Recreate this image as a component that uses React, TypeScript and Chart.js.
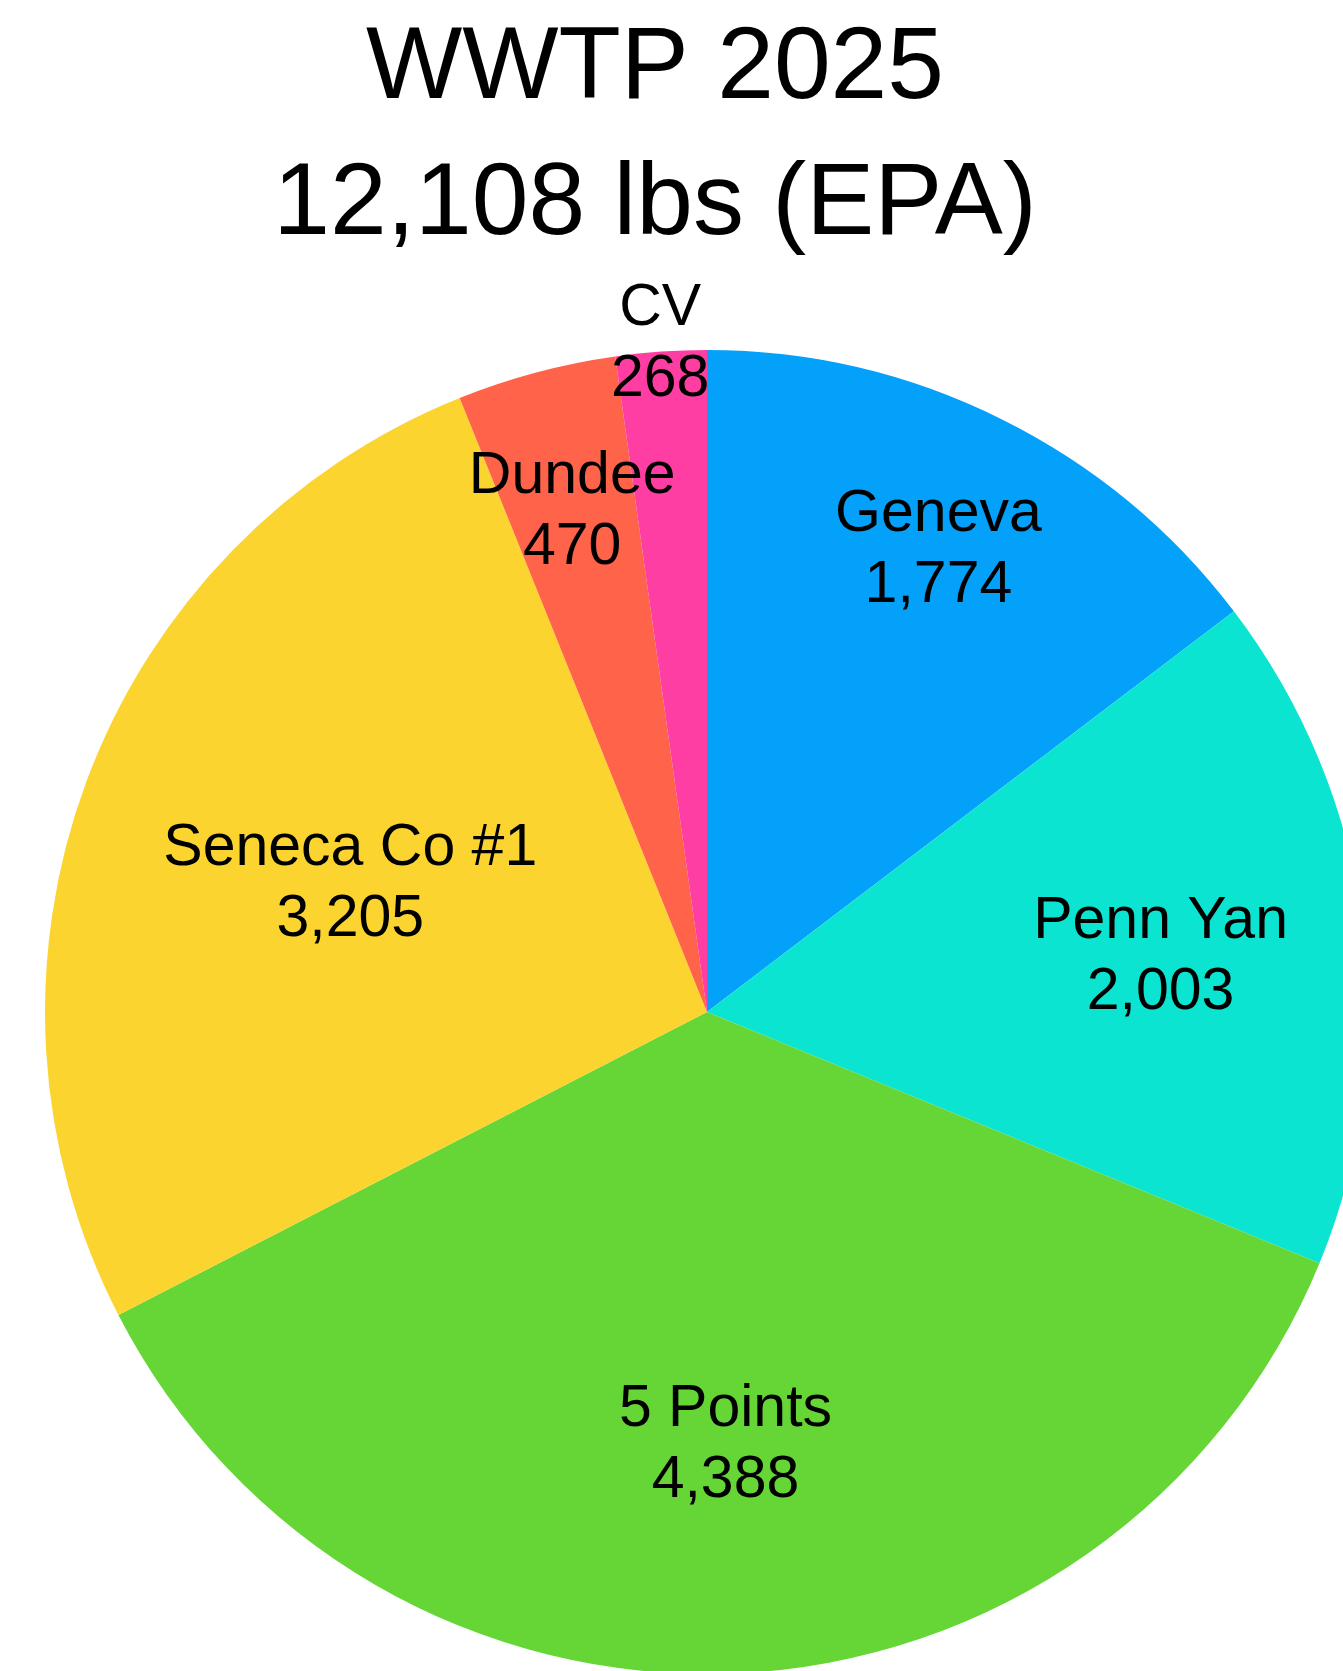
import React, { useEffect, useRef } from "react";
import { Chart, registerables } from "chart.js";

Chart.register(...registerables);

// Annual load per treatment plant, clockwise from 12 o'clock
const plants = ["Geneva", "Penn Yan", "5 Points", "Seneca Co #1", "Dundee", "CV"];
const pounds = [1774, 2003, 4388, 3205, 470, 268];
const sliceColors = ["#04A1FA", "#0CE4D2", "#65D636", "#FCD430", "#FF634A", "#FF3EA3"];

// Label distance from the centre, as a share of the pie radius
const labelRadius = [0.787, 0.691, 0.648, 0.575, 0.789, 1.018];

const heading = "WWTP 2025";
const unitText = "lbs (EPA)";

const FONT = '"Liberation Sans", Arial, Helvetica, sans-serif';
const fmt = (v: number) => v.toLocaleString("en-US");

const titlePlugin = {
  id: "titleBlock",
  afterDraw(chart: any) {
    const ctx = chart.ctx;
    const total = pounds.reduce((a, b) => a + b, 0);
    ctx.save();
    ctx.fillStyle = "#000";
    ctx.textAlign = "center";
    ctx.textBaseline = "alphabetic";
    ctx.font = `102px ${FONT}`;
    ctx.fillText(heading, 655, 98);
    ctx.fillText(`${fmt(total)} ${unitText}`, 655, 234);
    ctx.restore();
  },
};

const sliceLabelPlugin = {
  id: "sliceLabels",
  afterDatasetsDraw(chart: any) {
    const ctx = chart.ctx;
    const meta = chart.getDatasetMeta(0);
    const ds = chart.data.datasets[0];
    ctx.save();
    ctx.fillStyle = "#000";
    ctx.textAlign = "center";
    ctx.textBaseline = "alphabetic";
    ctx.font = `59px ${FONT}`;
    meta.data.forEach((arc: any, i: number) => {
      const { x, y, startAngle, endAngle, outerRadius } = arc.getProps(
        ["x", "y", "startAngle", "endAngle", "outerRadius"],
        true
      );
      const mid = (startAngle + endAngle) / 2;
      const r = outerRadius * labelRadius[i];
      const cx = x + Math.cos(mid) * r;
      const cy = y + Math.sin(mid) * r;
      ctx.fillText(String(chart.data.labels[i]), cx, cy - 35.5 + 21);
      ctx.fillText(fmt(ds.data[i] as number), cx, cy + 35.5 + 21);
    });
    ctx.restore();
  },
};

export default function App() {
  const canvasRef = useRef<HTMLCanvasElement | null>(null);

  useEffect(() => {
    if (!canvasRef.current) return;
    const chart = new Chart(canvasRef.current, {
      type: "pie",
      data: {
        labels: plants,
        datasets: [
          {
            data: pounds,
            backgroundColor: sliceColors,
            borderWidth: 0,
            hoverOffset: 0,
            offset: 0,
            spacing: 0,
          } as any,
        ],
      },
      options: {
        responsive: false,
        maintainAspectRatio: false,
        animation: false,
        devicePixelRatio: 1,
        layout: { padding: { left: 45, top: 350, right: 31, bottom: 26 } },
        plugins: {
          legend: { display: false },
          tooltip: { enabled: false },
          title: { display: false },
        },
        events: [],
      },
      plugins: [sliceLabelPlugin, titlePlugin],
    });
    return () => chart.destroy();
  }, []);

  return (
    <div
      style={{
        position: "absolute",
        left: 0,
        top: 0,
        width: 1343,
        height: 1671,
        overflow: "hidden",
        background: "#fff",
      }}
    >
      <canvas ref={canvasRef} width={1400} height={1700} style={{ display: "block" }} />
    </div>
  );
}
